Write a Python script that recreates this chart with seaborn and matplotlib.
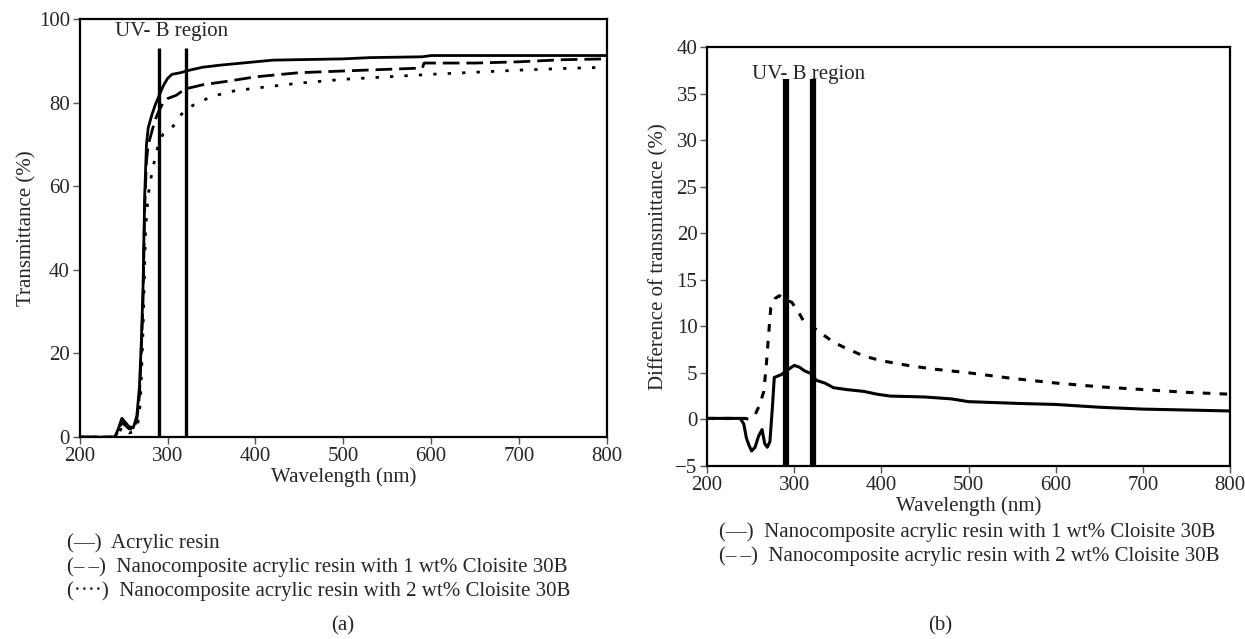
import pandas as pd
import seaborn as sns
import matplotlib.pyplot as plt

# ---- panel (a): transmittance ----
wl_acrylic = [200, 240, 244, 248, 252, 256, 261, 265, 268, 270, 272, 274, 276, 278, 282, 286, 290,
              295, 300, 305, 315, 325, 340, 360, 400, 420, 500, 530, 590, 600, 700, 800]
t_acrylic = [0, 0, 2, 4.5, 3.5, 2.5, 2.2, 5, 12, 22, 35, 58, 70, 74, 77, 79.5, 81.5,
             84, 85.8, 86.8, 87.2, 87.8, 88.5, 89.0, 89.8, 90.2, 90.5, 90.8, 91.0, 91.3, 91.3, 91.3]

wl_1wt = [200, 240, 244, 248, 252, 256, 261, 265, 268, 270, 272, 274, 276, 278, 282, 286, 290,
          295, 300, 310, 320, 340, 370, 400, 450, 500, 550, 590, 592, 650, 700, 750, 800]
t_1wt = [0, 0, 1.5, 3.5, 2.8, 2, 1.8, 4, 10, 20, 32, 55, 66, 70, 73, 76, 78,
         80, 81, 81.8, 83.3, 84.3, 85.2, 86.2, 87.2, 87.6, 88, 88.3, 89.5, 89.5, 89.8, 90.3, 90.5]

wl_2wt = [200, 240, 244, 248, 252, 256, 261, 266, 269, 272, 275, 278, 282, 286, 290, 295, 300,
          305, 310, 315, 320, 330, 350, 375, 400, 450, 500, 550, 600, 650, 700, 750, 800]
t_2wt = [0, 0, 0.5, 2.5, 1.5, 1, 1.2, 3, 8, 25, 50, 58, 63, 67, 70.5, 72.5, 73,
         74, 75.5, 77, 78.3, 79.5, 81.5, 82.8, 83.5, 84.7, 85.6, 86.2, 86.8, 87.3, 87.8, 88.2, 88.5]

# ---- panel (b): difference of transmittance ----
wl_d1 = [200, 238, 242, 245, 248, 251, 255, 259, 263, 266, 269, 272, 275, 277, 285, 292, 300,
         306, 312, 320, 325, 335, 345, 360, 380, 395, 410, 450, 480, 500, 530, 560, 600, 650,
         700, 750, 800]
d_1wt = [0.1, 0.1, -0.5, -2, -2.8, -3.4, -3.0, -1.8, -1.1, -2.6, -3.0, -2.4, 1.5, 4.5, 4.8, 5.3, 5.8,
         5.6, 5.2, 4.9, 4.2, 3.9, 3.4, 3.2, 3.0, 2.7, 2.5, 2.4, 2.2, 1.9, 1.8, 1.7, 1.6, 1.3,
         1.1, 1.0, 0.9]

wl_d2 = [200, 238, 244, 248, 255, 260, 265, 268, 270, 273, 278, 283, 290, 297, 305, 311, 320,
         330, 345, 360, 380, 400, 430, 460, 500, 550, 600, 650, 700, 750, 800]
d_2wt = [0.1, 0.1, 0.1, 0, 0.5, 1.5, 3, 6, 8.5, 12, 13.0, 13.3, 12.8, 12.6, 11.5, 10.5, 10.0,
         9.3, 8.3, 7.6, 6.8, 6.3, 5.8, 5.4, 5.0, 4.4, 3.9, 3.5, 3.2, 2.9, 2.7]

uvb_bounds = [290, 321]

names_a = ["Acrylic resin",
           "Nanocomposite acrylic resin with 1 wt% Cloisite 30B",
           "Nanocomposite acrylic resin with 2 wt% Cloisite 30B"]
names_b = names_a[1:]

df_a = pd.concat([
    pd.DataFrame({"wl": wl_acrylic, "val": t_acrylic, "sample": names_a[0]}),
    pd.DataFrame({"wl": wl_1wt, "val": t_1wt, "sample": names_a[1]}),
    pd.DataFrame({"wl": wl_2wt, "val": t_2wt, "sample": names_a[2]}),
])
df_b = pd.concat([
    pd.DataFrame({"wl": wl_d1, "val": d_1wt, "sample": names_b[0]}),
    pd.DataFrame({"wl": wl_d2, "val": d_2wt, "sample": names_b[1]}),
])

sns.set_style("white")
plt.rcParams["font.family"] = ["Liberation Serif", "DejaVu Serif"]
plt.rcParams["axes.unicode_minus"] = True
fs = 15

fig = plt.figure(figsize=(12.45, 6.39), dpi=100)
ax1 = fig.add_axes([0.064, 0.316, 0.4235, 0.654])
ax2 = fig.add_axes([0.568, 0.271, 0.420, 0.655])

pal_a = {n: "black" for n in names_a}
dash_a = {names_a[0]: "", names_a[1]: (6, 2.5), names_a[2]: (1.2, 4)}
sns.lineplot(data=df_a, x="wl", y="val", hue="sample", style="sample", palette=pal_a,
             dashes=dash_a, linewidth=2, legend=False, sort=False, ax=ax1)
ax1.vlines(uvb_bounds, -0.8, 93, color="black", linewidth=2.4)
ax1.text(305, 97, "UV- B region", ha="center", va="center", fontsize=fs)
ax1.set_xlim(200, 800)
ax1.set_ylim(0, 100)
ax1.set_xticks(range(200, 801, 100))
ax1.set_yticks(range(0, 101, 20))
ax1.set_xlabel("Wavelength (nm)", fontsize=fs)
ax1.set_ylabel("Transmittance (%)", fontsize=fs)

pal_b = {n: "black" for n in names_b}
dash_b = {names_b[0]: "", names_b[1]: (2.5, 3)}
sns.lineplot(data=df_b, x="wl", y="val", hue="sample", style="sample", palette=pal_b,
             dashes=dash_b, linewidth=2.2, legend=False, sort=False, ax=ax2)
ax2.vlines(uvb_bounds, -5, 36.6, color="black", linewidth=4.5)
ax2.text(316, 37.1, "UV- B region", ha="center", va="center", fontsize=fs)
ax2.set_xlim(200, 800)
ax2.set_ylim(-5, 40)
ax2.set_xticks(range(200, 801, 100))
ax2.set_yticks(range(-5, 41, 5))
ax2.set_xlabel("Wavelength (nm)", fontsize=fs)
ax2.set_ylabel("Difference of transmittance (%)", fontsize=fs)

for ax in (ax1, ax2):
    for s in ax.spines.values():
        s.set_color("black")
        s.set_linewidth(1.6)
    ax.tick_params(axis="both", direction="out", length=5, width=1, color="#555555",
                   labelsize=fs, bottom=True, left=True, pad=2)
    ax.xaxis.labelpad = 1
ax1.yaxis.labelpad = 2
ax2.yaxis.labelpad = 5

# captions and legend keys below each panel
leg_a = ["(\u2014)  " + names_a[0], "(\u2013\u2009\u2013)  " + names_a[1],
         "(\u00b7\u00b7\u00b7\u00b7)  " + names_a[2]]
for i, s in enumerate(leg_a):
    fig.text(67 / 1245, 1 - (543 + 24 * i) / 639, s, fontsize=fs, va="center", ha="left")
leg_b = ["(\u2014)  " + names_b[0], "(\u2013\u2009\u2013)  " + names_b[1]]
for i, s in enumerate(leg_b):
    fig.text(719 / 1245, 1 - (532 + 24 * i) / 639, s, fontsize=fs, va="center", ha="left")
fig.text(343 / 1245, 1 - 626 / 639, "(a)", fontsize=fs, va="center", ha="center")
fig.text(940 / 1245, 1 - 626 / 639, "(b)", fontsize=fs, va="center", ha="center")

fig.savefig("out.png", dpi=100)
